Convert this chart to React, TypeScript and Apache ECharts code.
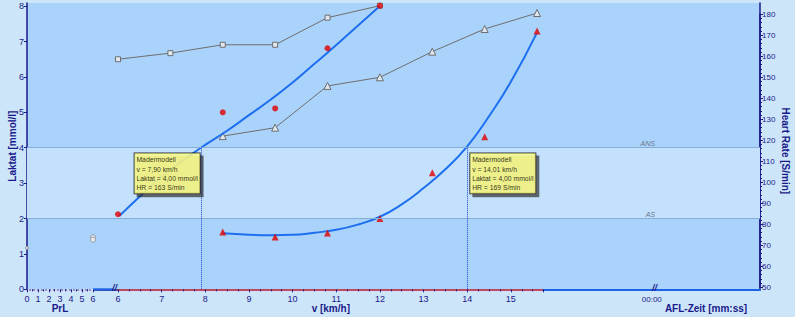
import React, { useEffect, useRef } from "react";
import * as echarts from "echarts";

// ---- data ----
const lactate1Speed = [6, 8.4, 9.6, 10.8, 12];
const lactate1Values = [2.12, 5.0, 5.11, 6.81, 8.01];
const lactate2Speed = [8.4, 9.6, 10.8, 12, 13.2, 14.4, 15.6];
const lactate2Values = [1.62, 1.48, 1.59, 2.0, 3.29, 4.31, 7.3];

const hr1Speed = [6, 7.2, 8.4, 9.6, 10.8, 12];
const hr1Values = [158.6, 161.5, 165.5, 165.5, 178.4, 184.1];
const hr2Speed = [8.4, 9.6, 10.8, 12, 13.2, 14.4, 15.6];
const hr2Values = [122.0, 126.0, 145.9, 150.0, 162.2, 173.0, 180.6];

const curve1Speed = [6.03, 6.5, 7, 7.5, 7.9, 8.5, 9, 9.5, 10, 10.5, 11, 11.5, 12];
const curve1Values = [2.07, 2.62, 3.18, 3.65, 4.0, 4.48, 4.92, 5.36, 5.84, 6.37, 6.9, 7.45, 8.0];
const curve2Speed = [8.4, 9, 9.5, 10, 10.5, 11, 11.5, 12, 12.5, 13, 13.5, 14, 14.5, 15, 15.59];
const curve2Values = [1.58, 1.54, 1.53, 1.54, 1.6, 1.68, 1.83, 2.05, 2.4, 2.86, 3.39, 4.04, 4.89, 5.86, 7.23];

const prlSteps = [6, 6, 0];
const prlValues = [1.47, 1.4, 1.17];
const prlSizes = [5, 5, 3];

const annoSpeed = [7.9, 14.01];
const annoLactate = [4.0, 4.0];
const annoHR = [163, 169];

const thresholds = [
  { value: 4, label: "ANS" },
  { value: 2, label: "AS" },
];

const NAVY = "#1a1a8a";
const FONT = "'Liberation Sans', Arial, sans-serif";
const LAC_MAX = 8.088;

const zip = (a: number[], b: number[]) => a.map((v, i) => [v, b[i]]);
const fmt = (n: number, d: number) => n.toFixed(d).replace(".", ",");

export default function App() {
  const ref = useRef<HTMLDivElement>(null);
  useEffect(() => {
    if (!ref.current) return;
    const chart = echarts.init(ref.current, undefined, { renderer: "svg" });
    const intLabel = (v: number) => (Math.abs(v - Math.round(v)) < 1e-6 ? String(Math.round(v)) : "");
    const hidden = { show: false };
    const g = { outerBoundsMode: "none", containLabel: false };
    const nameStyle = { color: NAVY, fontWeight: "bold", fontSize: 10, fontFamily: FONT };
    const option: any = {
      animation: false,
      backgroundColor: "#cde5f9",
      textStyle: { fontFamily: FONT },
      grid: [
        { ...g, left: 27, right: 35, top: 3, bottom: 27.7, show: true, backgroundColor: "#a9d3fb", borderWidth: 0 },
        { ...g, left: 118, right: 251.4, top: 3, bottom: 27.7 },
        { ...g, left: 118, right: 35, top: 14.3, bottom: 29.7 },
        { ...g, left: 27, right: 702, top: 3, bottom: 27.7 },
        { ...g, left: 543.6, right: 35, top: 3, bottom: 27.7 },
      ],
      xAxis: [
        {
          gridIndex: 0, type: "value", min: 0, max: 1, position: "top",
          axisLine: { show: true, lineStyle: { color: NAVY, width: 1.5 } },
          axisTick: hidden, axisLabel: hidden, splitLine: hidden,
        },
        {
          gridIndex: 1, type: "value", min: 6, max: 15.75, interval: 1,
          name: "v [km/h]", nameLocation: "middle", nameGap: 14, nameMoveOverlap: false,
          nameTextStyle: nameStyle,
          axisLine: { show: true, onZero: false, lineStyle: { color: "#e84a4a", width: 1.5 } },
          axisTick: { show: true, length: 3, lineStyle: { color: NAVY } },
          minorTick: { show: true, splitNumber: 4, length: 2, lineStyle: { color: NAVY } },
          axisLabel: { color: NAVY, fontSize: 9, margin: 5, formatter: intLabel, showMaxLabel: false },
          splitLine: hidden,
        },
        { gridIndex: 2, type: "value", min: 6, max: 20.708, show: false },
        {
          gridIndex: 3, type: "value", min: 0, max: 6, interval: 1,
          name: "PrL", nameLocation: "middle", nameGap: 14, nameMoveOverlap: false,
          nameTextStyle: nameStyle,
          axisLine: { show: true, onZero: false, lineStyle: { color: "#ffffff", width: 1.5, type: [2, 2] } },
          axisTick: { show: true, length: 3, lineStyle: { color: NAVY } },
          minorTick: { show: true, splitNumber: 2, length: 2, lineStyle: { color: NAVY } },
          axisLabel: { color: NAVY, fontSize: 9, margin: 5, formatter: intLabel },
          splitLine: hidden,
        },
        {
          gridIndex: 4, type: "value", min: 0, max: 2, interval: 1,
          axisLine: { show: true, onZero: false, lineStyle: { color: "#1e62e6", width: 2 } },
          axisTick: hidden,
          axisLabel: { color: NAVY, fontSize: 8, margin: 6, formatter: (v: number) => (v === 1 ? "00:00" : "") },
          splitLine: hidden,
        },
      ],
      yAxis: [
        {
          gridIndex: 0, type: "value", min: 0, max: LAC_MAX, interval: 1, position: "left",
          name: "Laktat [mmol/l]", nameLocation: "middle", nameGap: 10, nameRotate: 90, nameMoveOverlap: false,
          nameTextStyle: nameStyle,
          axisLine: { show: true, lineStyle: { color: NAVY, width: 1.5 } },
          axisTick: { show: true, length: 3, lineStyle: { color: NAVY } },
          axisLabel: { color: NAVY, fontSize: 9, margin: 3, formatter: intLabel, showMaxLabel: false },
          splitLine: hidden,
        },
        {
          gridIndex: 0, type: "value", min: 0, max: LAC_MAX, position: "right",
          axisLine: { show: true, lineStyle: { color: NAVY, width: 1.5 } },
          axisTick: hidden, axisLabel: hidden, splitLine: hidden,
        },
        { gridIndex: 1, type: "value", min: 0, max: LAC_MAX, show: false },
        {
          gridIndex: 2, type: "value", min: 50, max: 180, interval: 10, position: "right",
          name: "Heart Rate [S/min]", nameLocation: "middle", nameGap: 20, nameRotate: -90, nameMoveOverlap: false,
          nameTextStyle: nameStyle,
          axisLine: { show: true, lineStyle: { color: NAVY, width: 1.5 } },
          axisTick: { show: true, length: 3, lineStyle: { color: NAVY } },
          minorTick: { show: true, splitNumber: 5, length: 2, lineStyle: { color: NAVY } },
          axisLabel: { color: NAVY, fontSize: 8, margin: 2 },
          splitLine: hidden,
        },
        { gridIndex: 3, type: "value", min: 0, max: LAC_MAX, show: false },
        { gridIndex: 4, type: "value", min: 0, max: LAC_MAX, show: false },
      ],
      graphic: [
        { type: "line", shape: { x1: 93, y1: 289.3, x2: 113, y2: 289.3 }, style: { stroke: "#1e62e6", lineWidth: 2 }, z: 10 },
        { type: "text", x: 112, y: 283, style: { text: "//", fill: NAVY, font: `italic bold 9px ${FONT}` }, z: 11 },
        { type: "text", x: 652, y: 283, style: { text: "//", fill: NAVY, font: `italic bold 9px ${FONT}` }, z: 11 },
        { type: "text", x: 706, y: 303, style: { text: "AFL-Zeit [mm:ss]", fill: NAVY, font: `bold 10px ${FONT}`, align: "center" } },
      ],
      series: [
        {
          type: "line", xAxisIndex: 0, yAxisIndex: 0, data: [], silent: true,
          markArea: {
            silent: true,
            itemStyle: { color: "#c3e1fd" },
            data: [[{ yAxis: thresholds[1].value }, { yAxis: thresholds[0].value }]],
          },
          markLine: {
            silent: true, symbol: "none",
            lineStyle: { color: "#86aed2", width: 1, type: "solid" },
            label: {
              show: true, position: "insideEndTop", distance: [105, 1],
              color: "#6a7890", fontSize: 7, fontStyle: "italic", fontFamily: FONT,
              formatter: (p: any) => p.name,
            },
            data: thresholds.map((t) => ({ yAxis: t.value, name: t.label })),
          },
        },
        {
          type: "line", xAxisIndex: 1, yAxisIndex: 2, data: zip(curve1Speed, curve1Values),
          smooth: true, showSymbol: false, symbol: "none", clip: false,
          lineStyle: { color: "#1e6ff0", width: 2 }, z: 3,
        },
        {
          type: "line", xAxisIndex: 1, yAxisIndex: 2, data: zip(curve2Speed, curve2Values),
          smooth: true, showSymbol: false, symbol: "none", clip: false,
          lineStyle: { color: "#1e6ff0", width: 2 }, z: 3,
        },
        {
          type: "line", xAxisIndex: 2, yAxisIndex: 3, data: zip(hr1Speed, hr1Values),
          clip: false, symbol: "rect", symbolSize: 5,
          lineStyle: { color: "#6e6e6e", width: 1 },
          itemStyle: { color: "#dfe8f0", borderColor: "#6e6e6e", borderWidth: 1 }, z: 2,
        },
        {
          type: "line", xAxisIndex: 2, yAxisIndex: 3, data: zip(hr2Speed, hr2Values),
          clip: false, symbol: "triangle", symbolSize: 7,
          lineStyle: { color: "#6e6e6e", width: 1 },
          itemStyle: { color: "#dfe8f0", borderColor: "#6e6e6e", borderWidth: 1 }, z: 2,
        },
        {
          type: "scatter", xAxisIndex: 1, yAxisIndex: 2, data: zip(lactate1Speed, lactate1Values),
          clip: false, symbol: "circle", symbolSize: 6, itemStyle: { color: "#e00000" }, z: 4,
        },
        {
          type: "scatter", xAxisIndex: 1, yAxisIndex: 2, data: zip(lactate2Speed, lactate2Values),
          clip: false, symbol: "triangle", symbolSize: 7, itemStyle: { color: "#e00000" }, z: 4,
        },
        {
          type: "scatter", xAxisIndex: 3, yAxisIndex: 4,
          data: prlSteps.map((v, i) => ({ value: [v, prlValues[i]], symbolSize: prlSizes[i] })),
          clip: false, symbol: "circle",
          itemStyle: { color: "#f4f4f4", borderColor: "#8a8a8a", borderWidth: 1 }, z: 4,
        },
        {
          type: "scatter", xAxisIndex: 1, yAxisIndex: 2, symbolSize: 1, clip: false, z: 6,
          itemStyle: { color: "rgba(0,0,0,0)" },
          data: annoSpeed.map((v, i) => ({
            value: [v, annoLactate[i], annoHR[i]],
            label: { position: i === 0 ? [-66, 6] : [3, 6] },
          })),
          label: {
            show: true, align: "left", verticalAlign: "top",
            color: "#000", fontSize: 6.8, lineHeight: 9.3, fontFamily: FONT,
            backgroundColor: "#ffff88", borderColor: "#000", borderWidth: 0.8,
            padding: [2, 2, 1, 2],
            shadowColor: "rgba(40,40,40,0.75)", shadowOffsetX: 3, shadowOffsetY: 3, shadowBlur: 0,
            formatter: (p: any) =>
              `Madermodell\nv = ${fmt(p.value[0], 2)} km/h\nLaktat = ${fmt(p.value[1], 2)} mmol/l\nHR = ${p.value[2]} S/min`,
          },
          markLine: {
            silent: true, symbol: "none",
            lineStyle: { color: "#1f3fcc", width: 1, type: "dotted" },
            label: { show: false },
            data: annoSpeed.map((v, i) => [{ coord: [v, annoLactate[i]] }, { coord: [v, 0] }]),
          },
        },
      ],
    };
    chart.setOption(option);
    return () => chart.dispose();
  }, []);
  return <div ref={ref} style={{ position: "absolute", left: 0, top: 0, width: 795, height: 317 }} />;
}
